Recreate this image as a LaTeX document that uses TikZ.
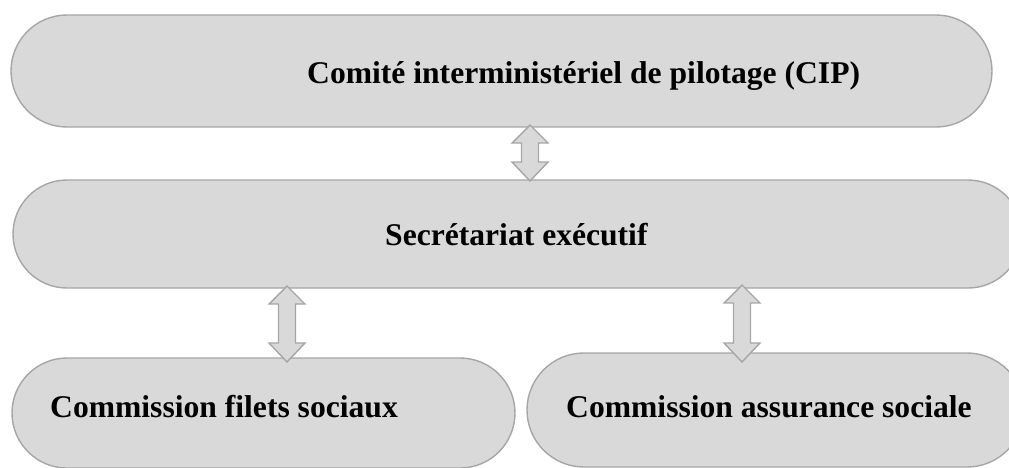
\documentclass[tikz,border=0pt]{standalone}
\usepackage{fontspec}
\setmainfont{Liberation Serif}
\usetikzlibrary{shapes.misc}
\definecolor{boxfill}{HTML}{D9D9D9}
\definecolor{boxline}{HTML}{A6A6A6}
\tikzset{
  pill/.style={rounded rectangle, draw=boxline, fill=boxfill, line width=1.4pt, inner sep=0pt},
  lbl/.style={anchor=base west, inner sep=0pt, font=\fontsize{31.6}{38}\selectfont\bfseries},
  blockarrow/.style={draw=boxline, fill=boxfill, line width=1.4pt, line join=miter}
}
\newcommand{\dblarrow}[3]{%
  \draw[blockarrow] (#1,#2) -- (#1+18,#2+18) -- (#1+8.5,#2+18) -- (#1+8.5,#3-19)
    -- (#1+18,#3-19) -- (#1,#3) -- (#1-18,#3-19) -- (#1-8.5,#3-19)
    -- (#1-8.5,#2+18) -- (#1-18,#2+18) -- cycle;}
\begin{document}
\begin{tikzpicture}[x=1pt,y=-1pt]
\useasboundingbox (0,0) rectangle (1009,467);
\clip (0,0) rectangle (1009,467);
\node[pill, minimum width=981pt, minimum height=112pt] (cip) at (501.5,71) {};
\node[pill, minimum width=1009pt, minimum height=108pt] (sec) at (517.5,234) {};
\node[pill, minimum width=503pt, minimum height=110pt] (cfs) at (263.5,413) {};
\node[pill, minimum width=497pt, minimum height=114pt] (cas) at (775.5,410) {};
\node[lbl] (tcip) at (307,83) {Comité interministériel de pilotage (CIP)};
\node[lbl] (tsec) at (385,245) {Secrétariat exécutif};
\node[lbl] (tcfs) at (50,417) {Commission filets sociaux};
\node[lbl] (tcas) at (566,417) {Commission assurance sociale};
\dblarrow{530}{125}{181}
\dblarrow{287}{286}{362}
\dblarrow{742}{285}{362}
\end{tikzpicture}
\end{document}
